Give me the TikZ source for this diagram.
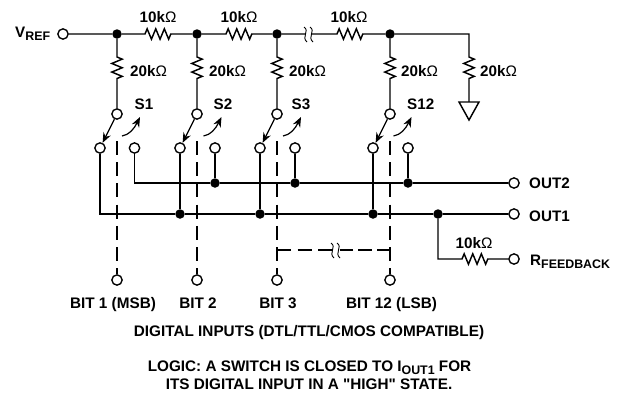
\documentclass[tikz,border=0pt]{standalone}
\usepackage{fontspec}
\setmainfont{Liberation Sans}[Ligatures=TeXOff]
\usetikzlibrary{decorations.pathmorphing,arrows.meta}
\newcommand{\Ohm}{{\mdseries Ω}}
\newcommand{\sbs}[1]{\raisebox{-3.5pt}{\fontsize{12.4}{14}\selectfont #1}}
\tikzset{
 x=1pt,y=-1pt,
 wire/.style={line width=1.45pt,line join=miter},
 term/.style={circle,draw,fill=white,line width=1.35pt,minimum size=10.3pt,inner sep=0pt},
 dot/.style={circle,fill=black,minimum size=9.5pt,inner sep=0pt},
 lbl/.style={font=\bfseries\fontsize{15.2}{19}\selectfont,inner sep=0pt,text=black,anchor=base},
 captxt/.style={font=\bfseries\fontsize{15.3}{19}\selectfont,inner sep=0pt,align=center,anchor=base},
 res/.style={decoration={zigzag,segment length=8.6pt,amplitude=5.2pt}},
 dashedw/.style={line width=1.35pt,dash pattern=on 14pt off 7.2pt},
 sw/.style={line width=1.2pt,-{Stealth[length=10pt,width=8pt]}},
 sq/.style={line width=.9pt},
}
\begin{document}
\begin{tikzpicture}
\useasboundingbox (0,0) rectangle (623,392);
% terminals and junctions
\node[term] (vref) at (63,34) {};
\foreach \n/\x in {1/117,2/197,3/277,4/390}{
 \node[dot] (j\n) at (\x,34) {};
 \coordinate (a\n) at (\x,57);
 \coordinate (b\n) at (\x,82.5);
 \node[term] (t\n) at (\x,114) {};
 \coordinate (d\n) at (\x,141);
 \node[term] (bit\n) at (\x,280) {};
}
\foreach \n/\x in {1/100,2/180,3/260,4/373}{\node[term] (l\n) at (\x,148) {};}
\foreach \n/\x in {1/134.5,2/215,3/295,4/408}{\node[term] (r\n) at (\x,148) {};}
\node[dot] (o22) at (215,183) {};
\node[dot] (o23) at (295,183) {};
\node[dot] (o24) at (408,183) {};
\node[dot] (o12) at (180,214) {};
\node[dot] (o13) at (260,214) {};
\node[dot] (o14) at (373,214) {};
\node[dot] (of) at (438,214) {};
\node[term] (out2) at (514,183) {};
\node[term] (out1) at (514,214) {};
\node[term] (rfb) at (514,259) {};
\coordinate (c1) at (134.5,183);
\coordinate (c0) at (100,214);
\coordinate (cf) at (438,259);
\coordinate (tr) at (469,34);
\coordinate (ga) at (469,57);
\coordinate (gb) at (469,82.5);
\coordinate (gt) at (469,102);
% top rail
\coordinate (h1a) at (145,34); \coordinate (h1b) at (171,34);
\coordinate (h2a) at (226,34); \coordinate (h2b) at (252,34);
\coordinate (h3a) at (337,34); \coordinate (h3b) at (363,34);
\coordinate (s1) at (305.5,34); \coordinate (s2) at (311,34);
\coordinate (fa) at (462,259); \coordinate (fb) at (488,259);
\draw[wire] (vref) -- (j1) -- (h1a) decorate[res]{-- (h1b)} -- (j2) -- (h2a) decorate[res]{-- (h2b)} -- (j3) -- (s1);
\draw[wire] (s2) -- (h3a) decorate[res]{-- (h3b)} -- (j4) -- (tr) -- (ga) decorate[res]{-- (gb)} -- (gt);
\draw[sq] (304,27) .. controls (310,31) and (301,37) .. (307,42);
\draw[sq] (310,27) .. controls (316,31) and (307,37) .. (313,42);
% legs
\foreach \n in {1,2,3,4}{
 \draw[wire] (j\n) -- (a\n) decorate[res]{-- (b\n)} -- (t\n);
 \draw[sw] (t\n) -- (l\n);
 \draw[dashedw] (d\n) -- (bit\n);
}
% curved arrows
\foreach \x in {122,203.5,283,393.5}{
 \draw[sw] (\x,136) .. controls (\x+7,135) and (\x+12,129) .. (\x+18,117);
}
% ground
\draw[wire,fill=white] (459,102) -- (479,102) -- (469,120) -- cycle;
% buses
\draw[wire] (r1) -- (c1) -- (o22) -- (o23) -- (o24) -- (out2);
\draw[wire] (l1) -- (c0) -- (o12) -- (o13) -- (o14) -- (of) -- (out1);
\draw[wire] (l2) -- (o12);
\draw[wire] (l3) -- (o13);
\draw[wire] (l4) -- (o14);
\draw[wire] (r2) -- (o22);
\draw[wire] (r3) -- (o23);
\draw[wire] (r4) -- (o24);
\draw[wire] (of) -- (cf) -- (fa) decorate[res]{-- (fb)} -- (rfb);
% ganged dashed link
\coordinate (e3) at (277,250); \coordinate (e4) at (390,250);
\coordinate (e5) at (332,250); \coordinate (e6) at (338,250);
\draw[dashedw,dash pattern=on 14pt off 6.5pt] (e3) -- (e5);
\draw[dashedw,dash pattern=on 13.5pt off 5pt] (e4) -- (e6);
\draw[sq] (331,243) .. controls (337,247) and (328,253) .. (334,258);
\draw[sq] (337,243) .. controls (343,247) and (334,253) .. (340,258);
% labels
\node[lbl,anchor=base west] (lv) at (15,37) {V\sbs{REF}};
\foreach \nm/\x in {k1/158,k2/239,k3/349}{\node[lbl] (\nm) at (\x,22.5) {10k\Ohm};}
\node[lbl] (k4) at (474,248) {10k\Ohm};
\foreach \nm/\x in {w1/148.5,w2/227.5,w3/307.5,w4/419.5,w5/498.5}{\node[lbl] (\nm) at (\x,76.5) {20k\Ohm};}
\node[lbl] (S1) at (144,109.5) {S1};
\node[lbl] (S2) at (223,109.5) {S2};
\node[lbl] (S3) at (301,109.5) {S3};
\node[lbl] (S12) at (420.7,109.5) {S12};
\node[lbl,anchor=base west] (lo2) at (529,188.5) {OUT2};
\node[lbl,anchor=base west] (lo1) at (529,221.5) {OUT1};
\node[lbl,anchor=base west] (lf) at (530,265) {R\sbs{FEEDBACK}};
\node[captxt] (b1) at (113,308.3) {BIT 1 (MSB)};
\node[captxt] (b2) at (198,308.3) {BIT 2};
\node[captxt] (b3) at (278,308.3) {BIT 3};
\node[captxt] (b4) at (391.5,308.3) {BIT 12 (LSB)};
\node[captxt] (dig) at (309,336.7) {DIGITAL INPUTS (DTL/TTL/CMOS COMPATIBLE)};
\node[captxt] (log1) at (309.5,371) {LOGIC: A SWITCH IS CLOSED TO I\sbs{OUT1} FOR};
\node[captxt] (log2) at (309,389.5) {ITS DIGITAL INPUT IN A "HIGH" STATE.};
\end{tikzpicture}
\end{document}
